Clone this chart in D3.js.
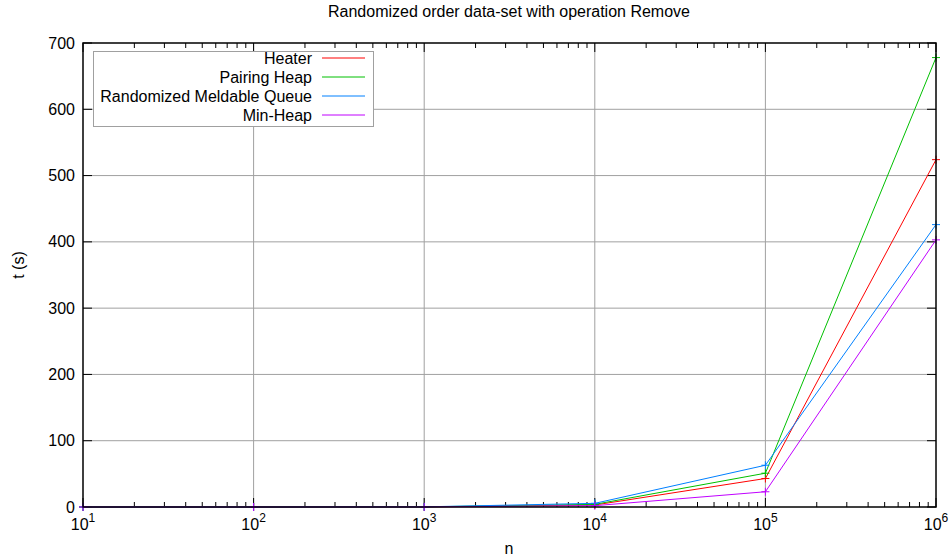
<!DOCTYPE html>
<html>
<head>
<meta charset="utf-8">
<script src="https://cdn.jsdelivr.net/npm/d3@7"></script>
<style>
  body { margin: 0; background: #fff; }
  text { font-family: "Liberation Sans", Arial, sans-serif; fill: #000; }
</style>
</head>
<body>
<script>
// data (n, seconds)
var nValues = [10, 100, 1000, 10000, 100000, 1000000];
var heater = [0.001, 0.01, 0.15, 3, 43, 524];
var pairing = [0.001, 0.01, 0.2, 4, 51, 678];
var meldable = [0.001, 0.01, 0.25, 5.5, 63, 426];
var minHeap = [0.001, 0.01, 0.1, 2, 23, 403];
var seriesNames = ["Heater", "Pairing Heap", "Randomized Meldable Queue", "Min-Heap"];
var seriesColors = ["#ff0000", "#00c000", "#0080ff", "#c000ff"];
var yTicks = [0, 100, 200, 300, 400, 500, 600, 700];
var xTicks = [1e1, 1e2, 1e3, 1e4, 1e5, 1e6];

var W = 952, H = 558;
var margin = {top: 43, right: 16, bottom: 51, left: 83},
    width = W - margin.left - margin.right,
    height = H - margin.top - margin.bottom;

var x = d3.scaleLog().domain([10, 1e6]).range([0, width]);
var y = d3.scaleLinear().domain([0, 700]).range([height, 0]);

var svg = d3.select("body").append("svg")
    .attr("width", W)
    .attr("height", H);

var g = svg.append("g")
    .attr("transform", "translate(" + margin.left + "," + margin.top + ")");

// grid
g.selectAll(".ygrid")
    .data(yTicks.slice(1, -1))
  .enter().append("line")
    .attr("x1", 0).attr("x2", width)
    .attr("y1", function(d) { return y(d); })
    .attr("y2", function(d) { return y(d); })
    .style("stroke", "#a0a0a0").style("stroke-width", 1);
g.selectAll(".xgrid")
    .data(xTicks.slice(1, -1))
  .enter().append("line")
    .attr("y1", 0).attr("y2", height)
    .attr("x1", function(d) { return x(d); })
    .attr("x2", function(d) { return x(d); })
    .style("stroke", "#a0a0a0").style("stroke-width", 1);

// minor ticks on the log axis
var minor = [];
for (var e = 1; e < 6; e++)
  for (var m = 2; m < 10; m++) minor.push(m * Math.pow(10, e));

function tickMarks(data, len) {
  data.forEach(function(d) {
    var px = x(d);
    g.append("line").attr("x1", px).attr("x2", px).attr("y1", height).attr("y2", height - len)
      .style("stroke", "#000").style("stroke-width", 1);
    g.append("line").attr("x1", px).attr("x2", px).attr("y1", 0).attr("y2", len)
      .style("stroke", "#000").style("stroke-width", 1);
  });
}
tickMarks(xTicks, 9);
tickMarks(minor, 5);

yTicks.forEach(function(d) {
  var py = y(d);
  g.append("line").attr("x1", 0).attr("x2", 9).attr("y1", py).attr("y2", py)
    .style("stroke", "#000").style("stroke-width", 1);
  g.append("line").attr("x1", width).attr("x2", width - 9).attr("y1", py).attr("y2", py)
    .style("stroke", "#000").style("stroke-width", 1);
});

// tick labels
g.selectAll(".ylab")
    .data(yTicks)
  .enter().append("text")
    .attr("x", -8)
    .attr("y", function(d) { return y(d); })
    .attr("dy", "0.35em")
    .attr("font-size", "16px")
    .style("text-anchor", "end")
    .text(function(d) { return d; });

xTicks.forEach(function(d) {
  var t = g.append("text")
      .attr("x", x(d))
      .attr("y", height + 23)
      .attr("font-size", "16px")
      .style("text-anchor", "middle");
  t.append("tspan").text("10");
  t.append("tspan").attr("dy", "-8").attr("font-size", "12px").text(Math.round(Math.log10(d)));
});

// series
var allSeries = [heater, pairing, meldable, minHeap];
var line = d3.line()
    .x(function(d, i) { return x(nValues[i]); })
    .y(function(d) { return y(d); });

allSeries.forEach(function(s, k) {
  g.append("path")
      .datum(s)
      .attr("d", line)
      .style("fill", "none")
      .style("stroke", seriesColors[k])
      .style("stroke-width", 1);
  g.selectAll(".pt" + k)
      .data(s)
    .enter().append("path")
      .attr("d", function(d, i) {
        var px = x(nValues[i]), py = y(d);
        return "M" + (px - 4) + "," + py + "H" + (px + 4) + "M" + px + "," + (py - 4) + "V" + (py + 4);
      })
      .style("stroke", seriesColors[k])
      .style("stroke-width", 1);
});

// border
g.append("rect")
    .attr("width", width).attr("height", height)
    .style("fill", "none").style("stroke", "#000").style("stroke-width", 1.5);

// legend
var leg = g.append("g").attr("transform", "translate(10,8)");
leg.append("rect")
    .attr("x", 0.5).attr("y", 0.5).attr("width", 280).attr("height", 75)
    .style("fill", "#fff").style("stroke", "#a0a0a0").style("stroke-width", 1);
seriesNames.forEach(function(name, k) {
  var ly = 7 + k * 19;
  leg.append("text")
      .attr("x", 219).attr("y", ly).attr("dy", "0.35em")
      .attr("font-size", "16px")
      .style("text-anchor", "end")
      .text(name);
  leg.append("line")
      .attr("x1", 229).attr("x2", 272).attr("y1", ly).attr("y2", ly)
      .style("stroke", seriesColors[k]).style("stroke-width", 1);
});

// titles
svg.append("text")
    .attr("x", 509).attr("y", 17)
    .attr("font-size", "16px")
    .style("text-anchor", "middle")
    .text("Randomized order data-set with operation Remove");
svg.append("text")
    .attr("x", 509).attr("y", 554)
    .attr("font-size", "16px")
    .style("text-anchor", "middle")
    .text("n");
svg.append("text")
    .attr("transform", "translate(24,265) rotate(-90)")
    .attr("font-size", "16px")
    .style("text-anchor", "middle")
    .text("t (s)");
</script>
</body>
</html>
